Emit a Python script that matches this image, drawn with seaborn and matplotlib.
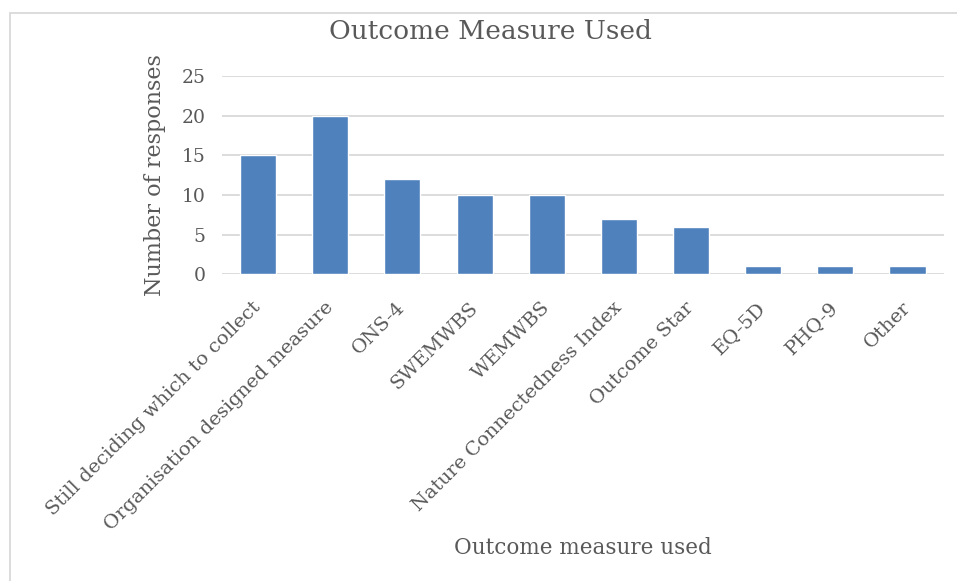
import matplotlib
matplotlib.use("Agg")
import matplotlib.pyplot as plt
import seaborn as sns
import pandas as pd
from matplotlib.patches import Rectangle

measures = ["Still deciding which to collect", "Organisation designed measure", "ONS-4",
            "SWEMWBS", "WEMWBS", "Nature Connectedness Index", "Outcome Star",
            "EQ-5D", "PHQ-9", "Other"]
responses = [15, 20, 12, 10, 10, 7, 6, 1, 1, 1]
yticks = [0, 5, 10, 15, 20, 25]

df = pd.DataFrame({"measure": measures, "responses": responses})

sns.set_style("white")
plt.rcParams['font.family'] = ['DejaVu Serif']
text_col = "#595959"
grid_col = "#D9D9D9"

fig = plt.figure(figsize=(9.57, 5.81), dpi=100)
ax = fig.add_axes([0.232, 0.528, 0.754, 0.341])

sns.barplot(data=df, x="measure", y="responses", color="#4F81BD", width=0.5,
            saturation=1, ax=ax, zorder=3)

ax.set_ylim(0, 25)
ax.set_yticks(yticks)
ax.yaxis.grid(True, color=grid_col, linewidth=1.3, zorder=0)
for s in ax.spines.values():
    s.set_visible(False)
ax.tick_params(length=0)
ax.tick_params(axis="y", labelsize=13.5, labelcolor=text_col, pad=12)
ax.set_xticks(range(len(measures)))
ax.set_xticklabels(measures, rotation=45, ha="right", va="center",
                   rotation_mode="anchor", fontsize=14, color=text_col)
ax.tick_params(axis="x", pad=22)

ax.set_xlabel("Outcome measure used", fontsize=15.5, color=text_col, va="center")
ax.xaxis.set_label_coords(0.5, -1.382)
ax.set_ylabel("Number of responses", fontsize=16, color=text_col, va="center")
ax.yaxis.set_label_coords(-0.093, 0.5)
fig.text(0.512, 0.945, "Outcome Measure Used", ha="center", va="center",
         fontsize=19, color=text_col)

fig.patches.append(Rectangle((10 / 957, -0.01), 1.0, 1 - 13 / 581 + 0.01,
                             transform=fig.transFigure, fill=False,
                             edgecolor=grid_col, linewidth=1.3))

fig.savefig("out.png", dpi=100)
